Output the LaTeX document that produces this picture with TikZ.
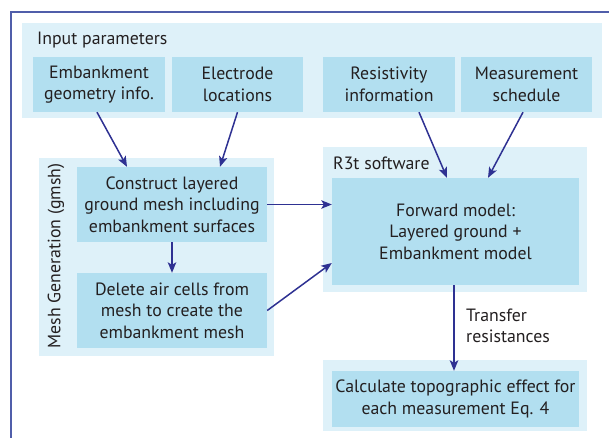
\documentclass[tikz,border=0pt]{standalone}
\usepackage{fontspec}
\setmainfont{PT Sans}
\usetikzlibrary{arrows.meta}
\definecolor{panelc}{RGB}{222,241,249}
\definecolor{boxc}{RGB}{178,223,240}
\definecolor{arrc}{RGB}{46,49,146}
\definecolor{framec}{RGB}{80,94,170}
\definecolor{txtc}{RGB}{35,31,32}
\tikzset{
  panel/.style={fill=panelc, draw=none, anchor=north west, inner sep=0pt},
  box/.style={fill=boxc, draw=none, inner sep=0pt, align=center, text=txtc, font=\fontsize{17.8}{21.5}\selectfont},
  lbl/.style={inner sep=0pt, text=txtc, font=\fontsize{17.8}{21.5}\selectfont, align=left},
  arr/.style={draw=arrc, line width=1.5pt, -{Stealth[length=10.5pt,width=8.5pt,inset=2.5pt]}},
  framel/.style={draw=framec, line width=2.2pt}
}
\begin{document}
\begin{tikzpicture}[x=1pt,y=-1pt]
\useasboundingbox (0,0) rectangle (609,437);
% frame
\coordinate (fbl) at (11,440);
\coordinate (ftl) at (11,12);
\coordinate (ftr) at (612,12);
\draw[framel] (fbl) -- (ftl) -- (ftr);
% panels
\node[panel, minimum width=580pt, minimum height=95pt] (inp) at (22,23) {};
\node[panel, minimum width=235pt, minimum height=198pt] (meshp) at (39,158) {};
\node[panel, minimum width=264pt, minimum height=145pt] (r3p) at (323,147) {};
\node[panel, minimum width=264pt, minimum height=71pt] (botp) at (323,360) {};
% panel labels
\node[lbl, anchor=west] (inplbl) at (37,40) {Input parameters};
\node[lbl, anchor=center, rotate=90] (meshlbl) at (56,256) {Mesh Generation (gmsh)};
\node[lbl, anchor=west] (r3lbl) at (333,163) {R3t software};
% boxes
\node[box, minimum width=132pt, minimum height=55pt] (emb) at (99,84.5) {Embankment\\geometry info.};
\node[box, minimum width=131pt, minimum height=55pt] (ele) at (237.5,84.5) {Electrode\\locations};
\node[box, minimum width=132pt, minimum height=55pt] (res) at (389,84.5) {Resistivity\\information};
\node[box, minimum width=131pt, minimum height=55pt] (mea) at (526.5,84.5) {Measurement\\schedule};
\node[box, minimum width=190pt, minimum height=75pt] (con) at (172,204.5) {Construct layered\\ground mesh including\\embankment surfaces};
\node[box, minimum width=190pt, minimum height=75pt] (del) at (172,310.5) {Delete air cells from\\mesh to create the\\embankment mesh};
\node[box, minimum width=247pt, minimum height=107pt] (fwd) at (455.5,231.5) {Forward model:\\Layered ground +\\Embankment model};
\node[box, minimum width=247pt, minimum height=56pt] (calc) at (455.5,399) {Calculate topographic effect for\\each measurement Eq. 4};
\node[lbl, anchor=west] (tr) at (466,326) {Transfer\\resistances};
% arrows
\draw[arr] ([xshift=-2pt]emb.south) -- ([xshift=-45pt]con.north);
\draw[arr] (ele.south) -- ([xshift=48pt]con.north);
\draw[arr] ([xshift=30pt]res.south) -- ([xshift=-8.5pt]fwd.north);
\draw[arr] ([xshift=-3.5pt]mea.south) -- ([xshift=32.5pt]fwd.north);
\draw[arr] (con.south) -- (del.north);
\draw[arr] (con.east) -- (con.east -| fwd.west);
\draw[arr] (del.east) -- ([yshift=-31.5pt]fwd.west);
\draw[arr] ([xshift=-1.5pt]fwd.south) -- ([xshift=-1.5pt]calc.north);
\end{tikzpicture}
\end{document}
